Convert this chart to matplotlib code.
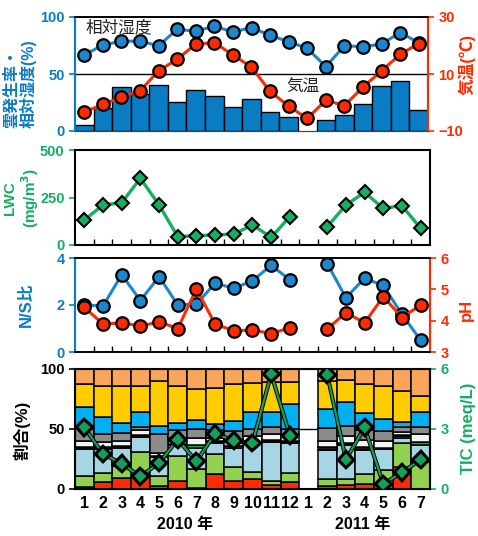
import numpy as np
import matplotlib
matplotlib.use("Agg")
import matplotlib.pyplot as plt
import matplotlib.patheffects as pe

plt.rcParams['font.family'] = ['Liberation Sans', 'Noto Sans CJK JP', 'DejaVu Sans']
plt.rcParams['font.weight'] = 'bold'

# ---------------- data ----------------
month_labels = ['1', '2', '3', '4', '5', '6', '7', '8', '9', '10', '11', '12',
                '1', '2', '3', '4', '5', '6', '7']
year_labels = ['2010 年', '2011 年']
nan = np.nan

cloud_rate = [5.2, 20.3, 38.3, 32.8, 40.6, 25.2, 35.7, 30.7, 21.2, 28.1, 16.5, 12.5,
              nan, 9.6, 13.6, 23.8, 39.4, 43.5, 18.8]
humidity = [66.7, 75.4, 78.8, 78.8, 74.8, 89.3, 87.5, 91.9, 86.9, 90.7, 84.0, 78.3,
            72.5, 56.5, 74.8, 73.9, 76.2, 86.4, 77.4]
temperature = [-3.3, -0.7, 1.9, 4.1, 11.1, 15.2, 20.5, 21.0, 16.7, 12.4, 3.9, -1.3,
               -5.6, 0.8, -1.1, 5.4, 11.1, 16.9, 20.7]
lwc = [131.6, 210.5, 222.8, 350.9, 210.5, 43.9, 49.1, 52.6, 57.9, 105.3, 40.4, 149.1,
       nan, 96.5, 210.5, 277.2, 193.0, 207.0, 87.7]
ns_ratio = [2.0, 1.96, 3.29, 2.19, 3.21, 2.0, 2.04, 2.93, 2.71, 3.03, 3.69, 3.07,
            nan, 3.76, 2.31, 3.14, 2.83, 1.6, 0.5]
ph = [4.43, 3.89, 3.93, 3.83, 3.96, 3.75, 5.01, 3.89, 3.68, 3.70, 3.59, 3.77,
      nan, 3.73, 4.26, 3.93, 4.77, 4.1, 4.5]
tic = [3.08, 1.75, 1.27, 0.63, 1.3, 2.47, 1.38, 2.77, 2.42, 2.3, 5.75, 2.67,
       nan, 5.72, 1.47, 3.08, 0.25, 0.83, 1.47]

# stacked composition (%), bottom to top
comp_red = [1.9, 6.1, 9, 13.9, 2.2, 6.9, 0.8, 12.8, 7, 8.3, 3.6, 6.1, 0, 2.8, 3.6, 4.2, 3.6, 18.1, 0]
comp_lgreen = [9.2, 7.2, 10.4, 17.2, 8.4, 20.3, 15.9, 16.6, 11, 6.4, 3.3, 7.2, 0, 5.5, 4.7, 8.3, 12.5, 20.2, 22.2]
comp_lblue = [22.2, 20, 15, 12.5, 16.1, 9.7, 17.5, 8.9, 16, 23.6, 32, 25, 0, 24.5, 28.6, 19.4, 17.2, 3.9, 14.5]
comp_dgreen = [0, 0, 0, 0, 0, 0, 2.7, 0, 2, 1, 0, 0, 0, 0, 0, 0, 0, 1.5, 2.2]
comp_black = [1.4, 1.4, 1.4, 1.7, 1, 1, 0, 1.4, 0, 0.6, 2.2, 2, 0, 1.9, 1.4, 2, 1, 1, 0.5]
comp_white = [5.6, 4.7, 4.5, 3.9, 2.3, 4.6, 5.6, 2.8, 4.5, 4.4, 4.7, 5.5, 0, 5.6, 5.6, 6.3, 5.4, 2, 6.4]
comp_gray = [9.7, 6.4, 6.5, 2.2, 16.1, 6.9, 7.5, 6.9, 7.5, 6.1, 5.6, 4.2, 0, 10.3, 8.3, 7.8, 8.4, 4.4, 5.6]
comp_blue = [18.1, 13.9, 8.5, 12.5, 6.1, 5.6, 7.8, 5, 9, 14.5, 13, 20.8, 0, 16.1, 20, 14.4, 10.2, 3.9, 12.5]
comp_yellow = [19.4, 25.9, 30, 21.7, 37.5, 31.1, 25.5, 29.8, 30.5, 24.4, 24.5, 18.6, 0, 23.6, 18.9, 23.1, 27.8, 25.8, 13.9]
comp_orange = [12.5, 14.4, 14.5, 14.4, 10.3, 13.9, 16.7, 15.8, 12.5, 11.7, 11.1, 10.6, 0, 9.7, 8.9, 12.5, 13.9, 18.1, 22.2]

# ---------------- styles ----------------
BLUE = '#0A7CC4'
RED = '#FF2A00'
GREEN = '#12B060'
comp_series = [comp_red, comp_lgreen, comp_lblue, comp_dgreen, comp_black,
               comp_white, comp_gray, comp_blue, comp_yellow, comp_orange]
comp_colors = ['#FF2A00', '#92D050', '#A6D6E3', '#00B050', '#1A1A1A',
               '#F4F4F4', '#8C8C8C', '#00B0F0', '#FFCC00', '#F9A65A']

x = np.arange(1, len(month_labels) + 1)
W, H = 478, 536
fig = plt.figure(figsize=(W / 100, H / 100), dpi=100)

def axes_px(l, t, r, b):
    return fig.add_axes([l / W, 1 - b / H, (r - l) / W, (b - t) / H])

TICK_FS = 10.5
LAB_FS = 11.5

# ---------- panel 1 ----------
ax1 = axes_px(75, 17, 428, 131)
ax1.axhline(50, color='black', lw=1.0, zorder=0)
ax1.bar(x, cloud_rate, width=1.0, color=BLUE, edgecolor='black', lw=1.0, zorder=2)
ax1.plot(x, humidity, '-o', color='#1B87CF', lw=2.2, ms=9, mfc='#1B87CF',
         mec='black', mew=1.6, zorder=4)
ax1.set_ylim(0, 100)
ax1.set_xlim(0.5, len(x) + 0.5)
ax1.set_yticks([0, 50, 100])
ax1.set_xticks([])
ax1.tick_params(axis='y', colors=BLUE, labelsize=TICK_FS, length=4, width=1.2)
ax1r = ax1.twinx()
ax1r.plot(x, temperature, '-o', color=RED, lw=2.2, ms=9, mfc=RED, mec='black', mew=1.6, zorder=5)
ax1r.set_ylim(-10, 30)
ax1r.set_yticks([-10, 10, 30])
ax1r.tick_params(axis='y', colors=RED, labelsize=TICK_FS, length=4, width=1.2)
for a in (ax1, ax1r):
    a.spines['left'].set_color(BLUE)
    a.spines['right'].set_color(RED)
    a.spines['left'].set_linewidth(1.5)
    a.spines['right'].set_linewidth(1.5)
    a.spines['top'].set_linewidth(1.2)
    a.spines['bottom'].set_color('#444444')
ax1.text(0.03, 0.975, '相対湿度', transform=ax1.transAxes, ha='left', va='top',
         fontsize=12, fontweight='normal', color='#222222', zorder=6)
ax1.text(0.60, 0.38, '気温', transform=ax1.transAxes, ha='left', va='center',
         fontsize=12, fontweight='normal', color='#222222', zorder=6)
fig.text(20 / W, 1 - 128 / H, '雲発生率・\n相対湿度(%)', rotation=90, rotation_mode='anchor',
         ha='left', va='center', multialignment='left', color=BLUE, fontsize=11.5,
         fontweight='bold', linespacing=1.1)
fig.text(467 / W, 1 - 64 / H, '気温(℃)', rotation=90, ha='center', va='center',
         color=RED, fontsize=12, fontweight='bold')

# ---------- panel 2 ----------
ax2 = axes_px(75, 150, 430, 245)
ax2.plot(x, lwc, '-D', color=GREEN, lw=2.4, ms=7.5, mfc=GREEN, mec='black', mew=1.5)
ax2.set_ylim(0, 500)
ax2.set_xlim(0.5, len(x) + 0.5)
ax2.set_yticks([0, 250, 500])
ax2.set_xticks(np.arange(1.5, len(x), 1.0))
ax2.set_xticklabels([])
ax2.tick_params(axis='x', direction='in', length=4, width=1.0)
ax2.tick_params(axis='y', colors=GREEN, labelsize=TICK_FS, length=4, width=1.2)
for s in ax2.spines.values():
    s.set_linewidth(1.5)
fig.text(22 / W, 1 - 198 / H, 'LWC\n(mg/m$^3$)', rotation=90, ha='center', va='center',
         color=GREEN, fontsize=11, fontweight='bold', linespacing=1.1)

# ---------- panel 3 ----------
ax3 = axes_px(75, 258, 430, 352)
ax3.plot(x, ns_ratio, '-o', color='#1B87CF', lw=2.2, ms=9, mfc='#1B87CF', mec='black', mew=1.6)
ax3.set_ylim(0, 4)
ax3.set_xlim(0.5, len(x) + 0.5)
ax3.set_yticks([0, 2, 4])
ax3.set_xticks(np.arange(1.5, len(x), 1.0))
ax3.set_xticklabels([])
ax3.tick_params(axis='x', direction='in', length=4, width=1.0)
ax3.tick_params(axis='y', colors=BLUE, labelsize=TICK_FS, length=4, width=1.2)
ax3r = ax3.twinx()
ax3r.plot(x, ph, '-o', color=RED, lw=2.2, ms=9, mfc=RED, mec='black', mew=1.6)
ax3r.set_ylim(3, 6)
ax3r.set_yticks([3, 4, 5, 6])
ax3r.tick_params(axis='y', colors=RED, labelsize=TICK_FS, length=4, width=1.2)
for a in (ax3, ax3r):
    a.spines['left'].set_color(BLUE)
    a.spines['right'].set_color(RED)
    a.spines['left'].set_linewidth(1.5)
    a.spines['right'].set_linewidth(1.5)
    a.spines['top'].set_linewidth(1.2)
    a.spines['bottom'].set_linewidth(1.2)
fig.text(26 / W, 1 - 305 / H, 'N/S比', rotation=90, ha='center', va='center',
         color=BLUE, fontsize=12, fontweight='bold')
fig.text(466 / W, 1 - 310 / H, 'pH', rotation=90, ha='center', va='center',
         color=RED, fontsize=12, fontweight='bold')

# ---------- panel 4 ----------
ax4 = axes_px(75, 369, 430, 489)
ax4.axhline(50, color='black', lw=1.0, zorder=0)
comp = np.array(comp_series, dtype=float)
tot = comp.sum(axis=0)
scale = np.where(tot > 0, 100.0 / np.where(tot > 0, tot, 1), 0)
comp = comp * scale
bottom = np.zeros(len(x))
for vals, col in zip(comp, comp_colors):
    ax4.bar(x, vals, bottom=bottom, width=1.0, color=col, edgecolor='black', lw=1.1, zorder=2)
    bottom += vals
ax4.set_ylim(0, 100)
ax4.set_xlim(0.5, len(x) + 0.5)
ax4.set_yticks([0, 50, 100])
ax4.set_xticks(x)
ax4.set_xticklabels(month_labels)
ax4.tick_params(axis='x', length=0, labelsize=LAB_FS, pad=5)
ax4.tick_params(axis='y', labelsize=TICK_FS, length=4, width=1.2)
for s in ax4.spines.values():
    s.set_linewidth(1.5)
ax4r = ax4.twinx()
ax4r.plot(x, tic, '-D', color='#12A05A', lw=1.6, ms=7.5, mfc='#12A05A', mec='black', mew=1.4,
          path_effects=[pe.Stroke(linewidth=3.0, foreground='black'), pe.Normal()], zorder=5)
ax4r.set_ylim(0, 6)
ax4r.set_yticks([0, 3, 6])
ax4r.tick_params(axis='y', colors=GREEN, labelsize=TICK_FS, length=4, width=1.2)
ax4r.spines['right'].set_linewidth(1.5)
fig.text(22 / W, 1 - 430 / H, '割合(%)', rotation=90, ha='center', va='center',
         color='black', fontsize=12, fontweight='bold')
fig.text(468 / W, 1 - 428 / H, 'TIC (meq/L)', rotation=90, ha='center', va='center',
         color=GREEN, fontsize=12, fontweight='bold')

fig.text(185 / W, 1 - 525 / H, year_labels[0], ha='center', va='center', fontsize=11.5, fontweight='bold')
fig.text(363 / W, 1 - 525 / H, year_labels[1], ha='center', va='center', fontsize=11.5, fontweight='bold')

fig.savefig('out.png', dpi=100)
